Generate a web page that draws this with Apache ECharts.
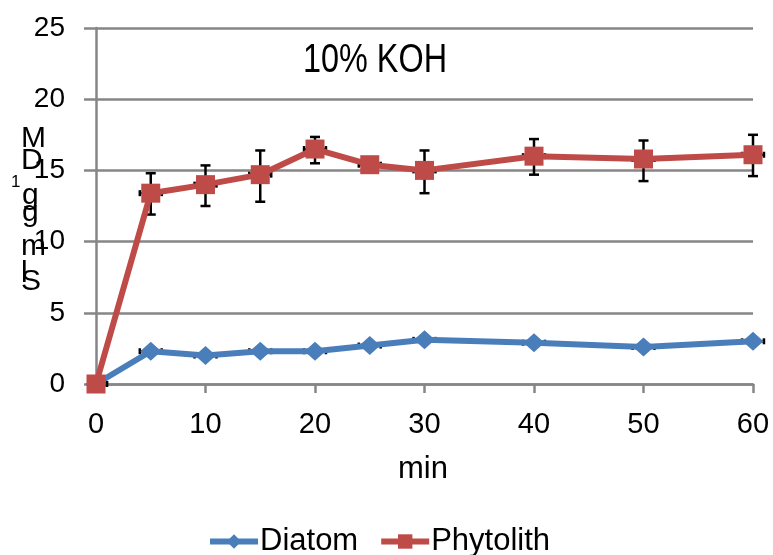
<!DOCTYPE html>
<html>
<head>
<meta charset="utf-8">
<script src="https://cdn.jsdelivr.net/npm/echarts@6/dist/echarts.min.js"></script>
<style>
  html, body { margin: 0; padding: 0; background: #fff; }
  #chart { width: 773px; height: 555px; }
</style>
</head>
<body>
<div id="chart"></div>
<script>
// data
const minutes = [0, 5, 10, 15, 20, 25, 30, 40, 50, 60];
const diatom = [0, 2.3, 2.0, 2.3, 2.3, 2.7, 3.1, 2.9, 2.6, 3.0];
const diatomErr = [0, 0.2, 0.2, 0.2, 0.2, 0.2, 0.2, 0.2, 0.2, 0.2];
const phytolith = [0, 13.4, 14.0, 14.7, 16.5, 15.4, 15.0, 16.0, 15.8, 16.1];
const phytolithLow = [0, 11.9, 12.5, 12.8, 15.5, 15.1, 13.4, 14.7, 14.25, 14.6];
const phytolithHigh = [0, 14.8, 15.35, 16.4, 17.35, 15.7, 16.4, 17.2, 17.1, 17.5];
const xErr = 1; // small horizontal error bars, minutes

const FONT = "'Liberation Sans', Arial, sans-serif";
const GRAY = '#868686';
const BLUE = '#4a7ebb';
const RED = '#be4b48';

function errorBars(params, api) {
  const x = api.value(0), y = api.value(1), lo = api.value(2), hi = api.value(3);
  const style = { stroke: '#000', lineWidth: 2.5 };
  const children = [];
  if (hi - lo > 0) {
    const a = api.coord([x, lo]), b = api.coord([x, hi]);
    children.push(
      { type: 'line', shape: { x1: a[0], y1: a[1], x2: b[0], y2: b[1] }, style },
      { type: 'line', shape: { x1: a[0] - 5, y1: a[1], x2: a[0] + 5, y2: a[1] }, style },
      { type: 'line', shape: { x1: b[0] - 5, y1: b[1], x2: b[0] + 5, y2: b[1] }, style }
    );
  }
  const l = api.coord([Math.max(0, x - xErr), y]), r = api.coord([x + xErr, y]);
  children.push(
    { type: 'line', shape: { x1: l[0], y1: l[1], x2: r[0], y2: r[1] }, style },
    { type: 'line', shape: { x1: r[0], y1: r[1] - 3, x2: r[0], y2: r[1] + 3 }, style }
  );
  if (x > 0) {
    children.push({ type: 'line', shape: { x1: l[0], y1: l[1] - 3, x2: l[0], y2: l[1] + 3 }, style });
  }
  return { type: 'group', children };
}

function letter(ch, x, y, size) {
  return { type: 'text', x, y, style: { text: ch, font: (size || 30) + 'px ' + FONT, fill: '#000', verticalAlign: 'middle' } };
}

const chart = echarts.init(document.getElementById('chart'));
chart.setOption({
  animation: false,
  textStyle: { fontFamily: FONT, color: '#000' },
  grid: { left: 96, right: 20, top: 28, bottom: 171 },
  legend: {
    data: ['Diatom', 'Phytolith'],
    left: 202, top: 521,
    itemWidth: 48, itemHeight: 18, itemGap: 20,
    lineStyle: { width: 6 },
    textStyle: { fontFamily: FONT, fontSize: 31, color: '#000', padding: [0, 0, 0, -3] }
  },
  xAxis: {
    type: 'value', min: 0, max: 60, interval: 10,
    axisLine: { lineStyle: { color: GRAY, width: 2.5 } },
    axisTick: { length: 9, lineStyle: { color: GRAY, width: 2.5 } },
    splitLine: { show: false },
    axisLabel: { fontSize: 29, color: '#000', margin: 26, fontFamily: FONT }
  },
  yAxis: {
    type: 'value', min: 0, max: 25, interval: 5,
    axisLine: { show: true, lineStyle: { color: GRAY, width: 2.5 } },
    axisTick: { show: true, length: 12, lineStyle: { color: GRAY, width: 2.5 } },
    splitLine: { lineStyle: { color: GRAY, width: 2.5 } },
    axisLabel: { fontSize: 28, color: '#000', margin: 31, fontFamily: FONT }
  },
  graphic: [
    { type: 'text', x: 375, y: 61, scaleX: 0.81, style: { text: '10% KOH', font: '40px ' + FONT, fill: '#000', align: 'center', verticalAlign: 'middle' } },
    { type: 'text', x: 423, y: 469, style: { text: 'min', font: '31px ' + FONT, fill: '#000', align: 'center', verticalAlign: 'middle' } },
    letter('M', 21, 139),
    letter('D', 21, 161),
    letter('1', 11, 182, 17),
    letter('g', 22, 196),
    letter('g', 22, 213),
    letter('m', 21, 247),
    letter('l', 21, 274),
    letter('S', 21, 282)
  ],
  series: [
    {
      type: 'custom', name: 'errD', z: 1, silent: true,
      renderItem: errorBars,
      data: minutes.map((m, i) => [m, diatom[i], diatom[i] - diatomErr[i], diatom[i] + diatomErr[i]])
    },
    {
      type: 'custom', name: 'errP', z: 1, silent: true,
      renderItem: errorBars,
      data: minutes.map((m, i) => [m, phytolith[i], phytolithLow[i], phytolithHigh[i]])
    },
    {
      name: 'Diatom', type: 'line', z: 3,
      data: minutes.map((m, i) => [m, diatom[i]]),
      symbol: 'diamond', symbolSize: [21, 19],
      lineStyle: { color: BLUE, width: 6 },
      itemStyle: { color: BLUE, opacity: 1 }
    },
    {
      name: 'Phytolith', type: 'line', z: 4,
      data: minutes.map((m, i) => [m, phytolith[i]]),
      symbol: 'rect', symbolSize: 19,
      lineStyle: { color: RED, width: 6 },
      itemStyle: { color: RED, opacity: 1 }
    }
  ]
});
</script>
</body>
</html>
